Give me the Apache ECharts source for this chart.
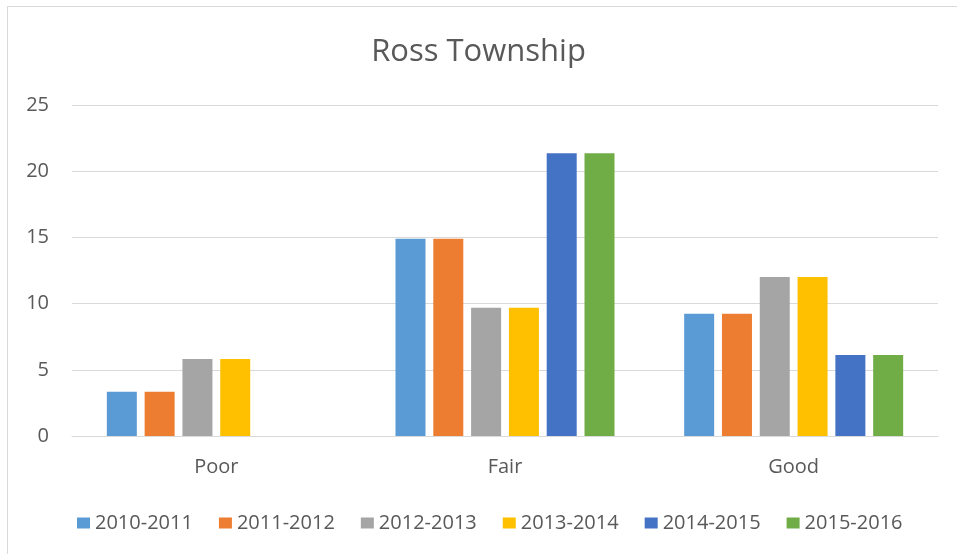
<!DOCTYPE html>
<html>
<head>
<meta charset="utf-8">
<title>Ross Township</title>
<script src="https://cdn.jsdelivr.net/npm/echarts@6/dist/echarts.min.js"></script>
<style>
    html, body { margin: 0; padding: 0; background: #fff; }
    #frame { position: absolute; left: 7px; top: 6px; width: 1000px; height: 1000px; border: 1px solid #d9d9d9; }
    #main { position: absolute; left: 0; top: 0; width: 957px; height: 554px; }
</style>
</head>
<body>
<div id="frame"></div>
<div id="main"></div>
<script>
var categories = ['Poor', 'Fair', 'Good'];
var seasons = ['2010-2011', '2011-2012', '2012-2013', '2013-2014', '2014-2015', '2015-2016'];
var colors = ['#5B9BD5', '#ED7D31', '#A5A5A5', '#FFC000', '#4472C4', '#70AD47'];

var s2010 = [3.35, 14.9, 9.24];
var s2011 = [3.35, 14.9, 9.24];
var s2012 = [5.81, 9.69, 12.01];
var s2013 = [5.81, 9.69, 12.01];
var s2014 = [0, 21.35, 6.11];
var s2015 = [0, 21.35, 6.11];
var seriesValues = [s2010, s2011, s2012, s2013, s2014, s2015];

var yTicks = { min: 0, max: 25, interval: 5 };

var textColor = '#595959';
var fontName = "'Open Sans', 'Noto Sans', sans-serif";

var chart = echarts.init(document.getElementById('main'));

var series = [];
for (var i = 0; i < seasons.length; i++) {
    series.push({
        name: seasons[i],
        type: 'bar',
        data: seriesValues[i],
        barWidth: 30,
        barGap: '26%',
        itemStyle: { color: colors[i] }
    });
}

var option = {
    backgroundColor: 'transparent',
    textStyle: { fontFamily: fontName },
    title: {
        text: 'Ross Township',
        left: 'center',
        top: 32,
        textStyle: { color: textColor, fontSize: 31, fontWeight: 'normal', fontFamily: fontName }
    },
    legend: {
        data: seasons,
        left: 72,
        top: 508,
        icon: 'rect',
        itemWidth: 13,
        itemHeight: 11,
        itemGap: 26,
        textStyle: { color: textColor, fontSize: 20, fontFamily: fontName }
    },
    grid: { left: 72, right: 19, top: 105, bottom: 118 },
    xAxis: {
        type: 'category',
        data: categories,
        axisLine: { lineStyle: { color: '#d9d9d9', width: 1 } },
        axisTick: { show: false },
        axisLabel: { color: textColor, fontSize: 20, margin: 21, fontFamily: fontName }
    },
    yAxis: {
        type: 'value',
        min: yTicks.min,
        max: yTicks.max,
        interval: yTicks.interval,
        axisLine: { show: false },
        axisTick: { show: false },
        axisLabel: { color: textColor, fontSize: 20, margin: 23, fontFamily: fontName },
        splitLine: { lineStyle: { color: '#d9d9d9', width: 1 } }
    },
    series: series
};

chart.setOption(option);
</script>
</body>
</html>
